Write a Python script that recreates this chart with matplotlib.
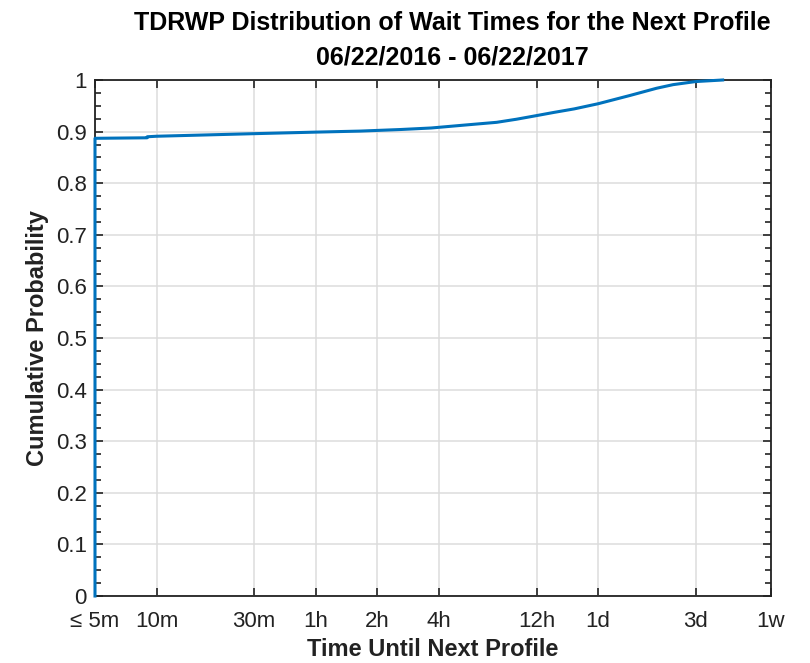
"""TDRWP wait-time CDF: cumulative probability of the wait until the next profile."""
import matplotlib
matplotlib.use("Agg")
import matplotlib.pyplot as plt
from matplotlib.ticker import FixedLocator

plt.rcParams["font.family"] = ["Liberation Sans", "DejaVu Sans"]

# wait time in minutes vs cumulative probability
wait_min = [5, 5, 9, 9, 10, 30, 60, 99, 155, 220, 328, 460, 575, 720, 870,
            1100, 1440, 2060, 2780, 3350, 4320, 5850]
cum_prob = [0.0, 0.887, 0.888, 0.890, 0.891, 0.896, 0.899, 0.901, 0.904, 0.907,
            0.913, 0.918, 0.924, 0.931, 0.937, 0.944, 0.954, 0.970, 0.984, 0.991,
            0.997, 1.000]

tick_min = [5, 10, 30, 60, 120, 240, 720, 1440, 4320, 10080]
tick_lbl = ["\u2264 5m", "10m", "30m", "1h", "2h", "4h", "12h", "1d", "3d", "1w"]
prob_ticks = [i / 10 for i in range(11)]
prob_lbl = ["0"] + [f"{v:.1f}" for v in prob_ticks[1:-1]] + ["1"]

fig = plt.figure(figsize=(8.1, 6.63), dpi=100)
ax = fig.add_axes([95 / 810, 1 - 596 / 663, (771 - 95) / 810, (596 - 80) / 663])

ax.plot(wait_min, cum_prob, color="#0072BD", lw=2.2, clip_on=False, zorder=5)

ax.set_xscale("log")
ax.set_xlim(5, 10080)
ax.set_ylim(0, 1)
ax.xaxis.set_major_locator(FixedLocator(tick_min))
ax.xaxis.set_minor_locator(FixedLocator([]))
ax.set_xticklabels(tick_lbl)
ax.yaxis.set_major_locator(FixedLocator(prob_ticks))
ax.yaxis.set_minor_locator(FixedLocator([i / 40 for i in range(41)]))
ax.set_yticklabels(prob_lbl)

ax.grid(True, which="major", color="#dcdcdc", lw=1.1)
ax.set_axisbelow(True)
for s in ax.spines.values():
    s.set_linewidth(1.3)
    s.set_color("#222222")
ax.tick_params(which="both", direction="in", top=True, right=True,
               labelsize=16, width=1.2, color="#222222", labelcolor="#222222")
ax.tick_params(axis="x", which="major", length=6, pad=11)
ax.tick_params(axis="y", which="major", length=6, pad=6)
ax.tick_params(which="minor", length=4)
ax.tick_params(axis="x", which="minor", top=False, bottom=False)

ax.set_xlabel("Time Until Next Profile", fontsize=17, fontweight="bold", labelpad=4,
              color="#222222")
ax.set_ylabel("Cumulative Probability", fontsize=17, fontweight="bold", labelpad=5,
              color="#222222")
ax.set_title("TDRWP Distribution of Wait Times for the Next Profile\n06/22/2016 - 06/22/2017",
             fontsize=18, fontweight="bold", pad=11, linespacing=1.55, x=0.528)

fig.savefig("out.png", dpi=100)
